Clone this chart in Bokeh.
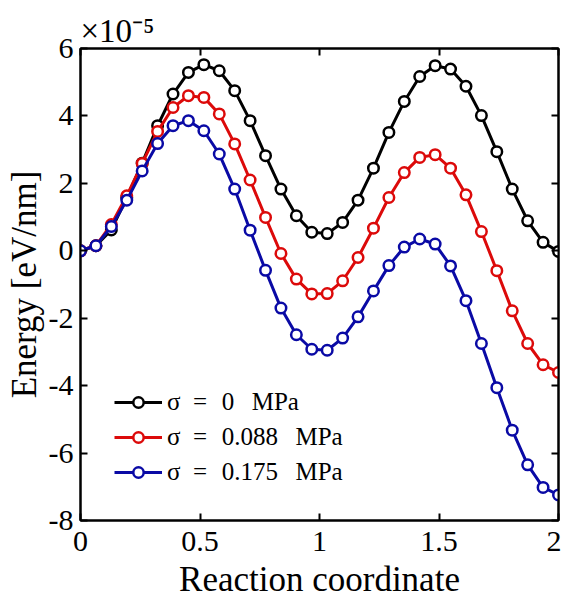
from bokeh.plotting import figure
from bokeh.models import (FixedTicker, LinearAxis, Legend, LegendItem, Range1d)
from bokeh.embed import file_html
from bokeh.resources import INLINE

# Reaction coordinate: 32 images from 0 to 2
x_vals = [k * 2 / 31 for k in range(32)]

# Energies in units of 1e-5 eV/nm
e_0 = [0.0, 0.15, 0.62, 1.58, 2.6, 3.71, 4.65, 5.29, 5.52, 5.34, 4.75, 3.86,
       2.82, 1.83, 1.04, 0.55, 0.51, 0.84, 1.50, 2.45, 3.51, 4.43, 5.17, 5.49,
       5.39, 4.88, 4.01, 2.94, 1.83, 0.89, 0.25, -0.02]
e_088 = [0.0, 0.15, 0.78, 1.63, 2.59, 3.54, 4.25, 4.60, 4.55, 4.06, 3.17, 2.10,
         0.99, -0.08, -0.84, -1.28, -1.27, -0.89, -0.20, 0.67, 1.58, 2.32, 2.77, 2.85,
         2.45, 1.66, 0.57, -0.59, -1.78, -2.75, -3.38, -3.61]
e_175 = [0.0, 0.15, 0.72, 1.50, 2.37, 3.18, 3.71, 3.86, 3.56, 2.87, 1.83, 0.61,
         -0.58, -1.70, -2.49, -2.92, -2.95, -2.59, -1.96, -1.19, -0.44, 0.11, 0.35, 0.20,
         -0.45, -1.48, -2.75, -4.06, -5.32, -6.35, -7.02, -7.24]

labels = ["\u03c3\u2002=\u2002\u200a0\u2002\u2009MPa",
          "\u03c3\u2002=\u2002\u200a0.088\u2002\u2009MPa",
          "\u03c3\u2002=\u2002\u200a0.175\u2002\u2009MPa"]
colors = ["#000000", "#dc0a0a", "#0a0aa5"]

x_ticks = [0, 0.5, 1, 1.5, 2]
x_tick_labels = ["0", "0.5", "1", "1.5", "2"]
y_ticks = [-8, -6, -4, -2, 0, 2, 4, 6]
y_tick_labels = ["-8", "-6", "-4", "-2", "0", "2", "4", "6"]

FONT = "Liberation Serif"

p = figure(width=561, height=605, output_backend="svg", toolbar_location=None,
           x_range=Range1d(0, 2), y_range=Range1d(-8, 6),
           min_border_left=80, min_border_right=3, min_border_top=48, min_border_bottom=85)
p.grid.visible = False
p.outline_line_color = "black"
p.outline_line_width = 2
p.background_fill_color = "white"
p.border_fill_color = "white"

p.title.text = "\u00d710\u207b\u2075"
p.title.align = "left"
p.title.offset = 0
p.title.standoff = 0
p.title.text_font = FONT
p.title.text_font_size = "33px"
p.title.text_font_style = "normal"
p.title.text_color = "black"

def style_axis(ax, show_labels=True):
    ax.axis_line_color = "black"
    ax.axis_line_width = 2
    ax.major_tick_in = 7
    ax.major_tick_out = 0
    ax.major_tick_line_width = 2
    ax.minor_tick_line_color = None
    ax.major_label_text_font = FONT
    ax.major_label_text_font_size = "30px"
    ax.major_label_text_color = "black"
    ax.axis_label_text_font = FONT
    ax.axis_label_text_font_size = "35px"
    ax.axis_label_text_font_style = "normal"
    ax.axis_label_text_color = "black"
    if not show_labels:
        ax.major_label_text_font_size = "0px"
        ax.major_label_text_alpha = 0
        ax.major_label_standoff = 0

xa = p.xaxis[0]
xa.ticker = FixedTicker(ticks=x_ticks)
xa.major_label_overrides = dict(zip(x_ticks, x_tick_labels))
xa.axis_label = "Reaction coordinate"
xa.major_label_standoff = 11
xa.axis_label_standoff = 6
style_axis(xa)

ya = p.yaxis[0]
ya.ticker = FixedTicker(ticks=y_ticks)
ya.major_label_overrides = dict(zip(y_ticks, y_tick_labels))
ya.axis_label = "Energy [eV/nm]"
ya.major_label_standoff = 7
ya.axis_label_standoff = 2
style_axis(ya)

top = LinearAxis(ticker=FixedTicker(ticks=x_ticks))
style_axis(top, False)
p.add_layout(top, "above")
right = LinearAxis(ticker=FixedTicker(ticks=y_ticks))
style_axis(right, False)
p.add_layout(right, "right")

items = []
for ys, lab, col in zip([e_0, e_088, e_175], labels, colors):
    r1 = p.line(x_vals, ys, line_color=col, line_width=3)
    r2 = p.scatter(x_vals, ys, marker="circle", size=10.5, fill_color="white",
                   line_color=col, line_width=2.5)
    items.append(LegendItem(label=lab, renderers=[r1, r2]))

legend = Legend(items=items, location=(30, 30), orientation="vertical")
legend.label_text_font = FONT
legend.label_text_font_size = "25px"
legend.label_text_color = "black"
legend.glyph_width = 48
legend.glyph_height = 26
legend.label_height = 26
legend.spacing = 7
legend.label_standoff = 5
legend.border_line_alpha = 0
legend.background_fill_alpha = 0
legend.padding = 4
p.add_layout(legend, "center")

open("out.html", "w").write(file_html(p, INLINE))
